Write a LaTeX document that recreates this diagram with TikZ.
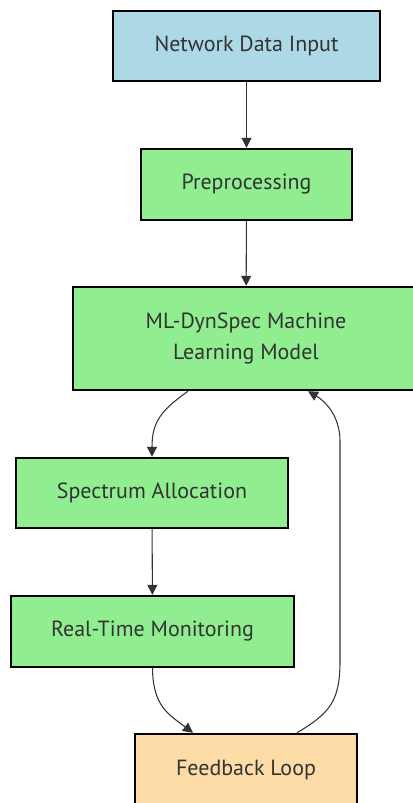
\documentclass[tikz,border=0pt]{standalone}
\usepackage{fontspec}
\setmainfont{PT Sans}
\usetikzlibrary{arrows.meta}
\definecolor{boxblue}{HTML}{ADD8E6}
\definecolor{boxgreen}{HTML}{90EE90}
\definecolor{boxpeach}{HTML}{FDDCA8}
\definecolor{inkgray}{HTML}{333333}
\begin{document}
\begin{tikzpicture}[x=0.02cm, y=-0.02cm,
		stagebox/.style={draw=black, line width=1.4pt, text=inkgray, align=center, inner sep=0pt,
			font=\fontsize{12.5}{18}\selectfont},
		flow/.style={draw=inkgray, line width=0.6pt, -{Triangle[length=0.2cm, width=0.2cm]}}]
		\useasboundingbox (0,0) rectangle (412,803);
		%pipeline boxes
		\node[stagebox, fill=boxblue, minimum width=5.34cm, minimum height=1.4cm] (input) at (246.5, 46){Network Data Input};
		\node[stagebox, fill=boxgreen, minimum width=4.22cm, minimum height=1.42cm] (prep) at (246.5, 184.5){Preprocessing};
		\node[stagebox, fill=boxgreen, minimum width=6.92cm, minimum height=2.06cm] (model) at (246, 338.5){ML-DynSpec Machine\\Learning Model};
		\node[stagebox, fill=boxgreen, minimum width=5.44cm, minimum height=1.4cm] (alloc) at (152, 493){Spectrum Allocation};
		\node[stagebox, fill=boxgreen, minimum width=5.66cm, minimum height=1.42cm] (monitor) at (152.5, 631.5){Real-Time Monitoring};
		\node[stagebox, fill=boxpeach, minimum width=4.44cm, minimum height=1.44cm] (feedback) at (246, 770){Feedback Loop};
		
		%straight links
		\draw[flow] (input) -- (prep);
		\draw[flow] (prep) -- (model);
		\draw[flow] (alloc) -- (monitor);
		
		%curved links
		\draw[flow] ([xshift=-1.16cm]model.south) .. controls (160, 411) and (152, 423) .. (alloc.north);
		\draw[flow] (monitor.south) .. controls (153, 706) and (168, 714) .. ([xshift=-1.06cm]feedback.north);
		\draw[flow] ([xshift=1.02cm]feedback.north) .. controls (330, 713) and (340, 701) .. (340, 661)
			-- (340, 441) .. controls (340, 416) and (325, 401) .. ([xshift=1.24cm]model.south);
\end{tikzpicture}
\end{document}
